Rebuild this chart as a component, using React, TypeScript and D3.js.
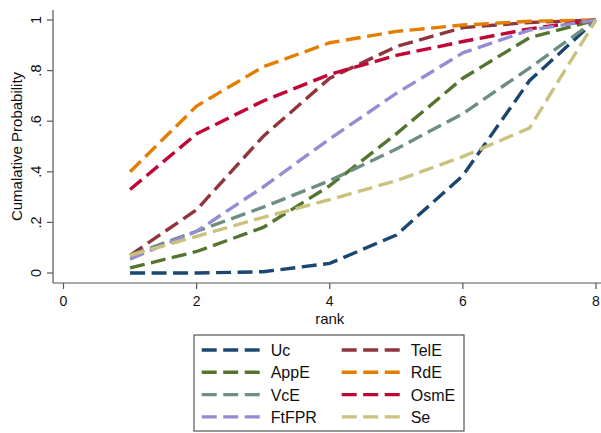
import React from "react";
import * as d3 from "d3";

// Cumulative ranking probabilities for each treatment, ranks 1..8
const ranks = [1, 2, 3, 4, 5, 6, 7, 8];
const Uc = [0, 0, 0.005, 0.038, 0.15, 0.385, 0.76, 1];
const TelE = [0.07, 0.25, 0.54, 0.77, 0.895, 0.97, 0.99, 1];
const AppE = [0.02, 0.085, 0.18, 0.345, 0.55, 0.77, 0.93, 1];
const RdE = [0.4, 0.66, 0.815, 0.91, 0.955, 0.98, 0.995, 1];
const VcE = [0.07, 0.165, 0.26, 0.365, 0.49, 0.63, 0.81, 1];
const OsmE = [0.33, 0.55, 0.68, 0.785, 0.86, 0.915, 0.965, 1];
const FtFPR = [0.055, 0.165, 0.34, 0.53, 0.71, 0.87, 0.96, 1];
const Se = [0.07, 0.145, 0.22, 0.29, 0.365, 0.46, 0.573, 1];

const seriesNames = ["Uc", "TelE", "AppE", "RdE", "VcE", "OsmE", "FtFPR", "Se"];
const seriesValues = [Uc, TelE, AppE, RdE, VcE, OsmE, FtFPR, Se];
const seriesColors = [
  "#1a476f",
  "#90353b",
  "#55752f",
  "#e37e00",
  "#6e8e84",
  "#c10534",
  "#938dd2",
  "#cac27e",
];

const xTicks = [0, 2, 4, 6, 8];
const yTicks = [0, 0.2, 0.4, 0.6, 0.8, 1];
const yTickLabels = ["0", ".2", ".4", ".6", ".8", "1"];

const W = 601;
const H = 433;
const FONT = "'Liberation Sans', Arial, sans-serif";
const DASH = "15 6.5";

export default function App() {
  const x = d3.scaleLinear().domain([0, 8]).range([63.5, 596]);
  const y = d3.scaleLinear().domain([0, 1]).range([273, 20]);
  const axisX = 53;
  const axisY = 283;

  const line = d3
    .line<[number, number]>()
    .x((d) => x(d[0]))
    .y((d) => y(d[1]));

  // legend: 2 columns, filled row by row
  const legLeft = 194;
  const legTop = 335;
  const legW = 270;
  const legH = 96;
  const rowY = (r: number) => 350 + r * 22.3;
  const colX = [201.7, 341.7];

  return (
    <svg
      width={W}
      height={H}
      style={{ position: "absolute", left: 0, top: 0, background: "#fff" }}
      fontFamily={FONT}
    >
      <rect x={0} y={0} width={W} height={H} fill="#fff" />

      {/* axes */}
      <line x1={axisX} x2={axisX} y1={10} y2={axisY} stroke="#555" strokeWidth={1.2} />
      <line x1={axisX} x2={W} y1={axisY} y2={axisY} stroke="#555" strokeWidth={1.2} />

      {yTicks.map((t, i) => (
        <g key={"yt" + i}>
          <line x1={axisX - 6} x2={axisX} y1={y(t)} y2={y(t)} stroke="#555" strokeWidth={1.2} />
          <text
            transform={`translate(${41},${y(t)}) rotate(-90)`}
            textAnchor="middle"
            fontSize={14.5}
            fill="#111"
          >
            {yTickLabels[i]}
          </text>
        </g>
      ))}

      {xTicks.map((t) => (
        <g key={"xt" + t}>
          <line x1={x(t)} x2={x(t)} y1={axisY} y2={axisY + 6} stroke="#555" strokeWidth={1.2} />
          <text x={x(t)} y={306} textAnchor="middle" fontSize={14} fill="#111">
            {t}
          </text>
        </g>
      ))}

      <text x={x(4)} y={324} textAnchor="middle" fontSize={15} fill="#111">
        rank
      </text>
      <text
        transform={`translate(${22},${(y(0) + y(1)) / 2}) rotate(-90)`}
        textAnchor="middle"
        fontSize={15}
        fill="#111"
      >
        Cumalative Probability
      </text>

      {/* series lines */}
      {seriesValues.map((vals, i) => (
        <path
          key={seriesNames[i]}
          d={line(ranks.map((r, j) => [r, vals[j]] as [number, number])) || ""}
          fill="none"
          stroke={seriesColors[i]}
          strokeWidth={3.4}
          strokeDasharray={DASH}
        />
      ))}

      {/* legend */}
      <rect
        x={legLeft}
        y={legTop}
        width={legW}
        height={legH}
        fill="#fff"
        stroke="#555"
        strokeWidth={1.2}
      />
      {seriesNames.map((name, i) => {
        const col = i % 2;
        const row = Math.floor(i / 2);
        const cy = rowY(row);
        const x0 = colX[col];
        return (
          <g key={"lg" + name}>
            <line
              x1={x0}
              x2={x0 + 58}
              y1={cy}
              y2={cy}
              stroke={seriesColors[i]}
              strokeWidth={3.4}
              strokeDasharray={DASH}
            />
            <text x={x0 + 69} y={cy + 6} fontSize={16} fill="#111">
              {name}
            </text>
          </g>
        );
      })}
    </svg>
  );
}
